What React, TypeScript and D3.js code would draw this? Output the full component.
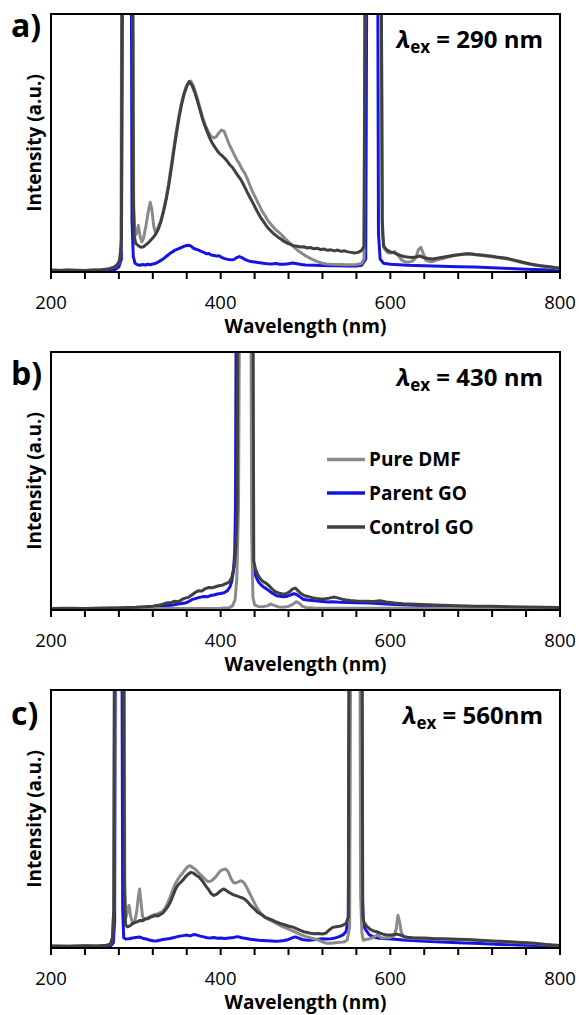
import React from "react";
import * as d3 from "d3";

type Pt = [number, number];

// ---------- Panel a: λex = 290 nm ----------
const dmf290: Pt[] = [[200,0.7],[220,0.7],[240,0.6],[260,0.9],[270,1.4],[276,2.2],[280,3.5],[282.5,8],[283.5,140],[296.5,140],[297.5,25],[299,14],[301,15],[303,18],[305,14],[307,11.6],[309,13],[312,18],[315,24],[317,27],[319,24],[321,18],[323,15.4],[326,17],[329,19.5],[332,23],[335,27.5],[338,33],[341,39.5],[344,46.5],[347,53],[350,59],[353,64.5],[356,68.5],[359,71.5],[362,73.5],[365,74],[368,72],[371,69],[374,65.5],[377,62],[380,58.5],[383,56],[386,54],[389,52.5],[392,52],[395,52.5],[398,54],[401,55],[404,54.6],[407,52],[410,49.5],[413,47.5],[416,45.5],[419,43.5],[422,42],[425,40],[428,38.5],[431,36.5],[434,34],[437,31.5],[440,29.5],[443,27.5],[446,25.5],[449,23.5],[452,22],[455,20.3],[458,19],[461,17.8],[464,16.6],[467,15.8],[470,15],[473,14],[476,13],[479,12],[482,11],[485,10],[488,9.2],[491,8.3],[494,7.6],[497,7],[500,6.3],[504,5.6],[508,4.9],[512,4.3],[516,3.8],[520,3.4],[525,3.1],[530,3],[540,2.9],[550,2.8],[560,2.9],[566,3.3],[569,5],[570.5,140],[589,140],[590.5,15],[593,9],[597,7.5],[601,7.4],[605,7.9],[609,6.5],[613,4.8],[617,4],[621,3.8],[626,4.2],[630,5.5],[633,8.5],[636,9.6],[639,7],[642,4.5],[647,4],[652,4.3],[657,4.8],[662,5.2],[667,5.7],[672,6.1],[678,6.5],[684,6.8],[690,7],[696,7],[702,6.6],[710,6.3],[720,5.9],[730,5.4],[740,4.9],[750,4.1],[760,3.3],[770,2.7],[780,2.2],[790,1.8],[800,1.4]];

const parent290: Pt[] = [[200,0.3],[220,0.3],[240,0.3],[260,0.4],[270,0.6],[276,1],[280,2],[283,5],[284.5,140],[294.5,140],[295.5,20],[297,6],[299,3.4],[302,2.8],[305,2.6],[308,2.9],[311,2.7],[314,3],[317,2.8],[320,3.1],[323,3.3],[326,3.8],[329,4.4],[332,5],[335,5.8],[338,6.6],[341,7.4],[344,8],[347,8.6],[350,9],[353,9.4],[356,9.8],[359,10.2],[362,10.4],[365,10],[368,9.2],[371,8.8],[374,8.5],[377,8],[380,7.6],[383,7.1],[386,7.2],[389,6.6],[392,6.4],[395,6.2],[398,6.3],[401,5.7],[404,5.3],[407,5],[410,4.8],[413,4.7],[416,4.9],[419,5.6],[422,6],[425,5.6],[428,5],[431,4.5],[434,4.2],[438,4],[442,3.8],[446,3.6],[450,3.4],[455,3.2],[460,3.1],[465,3.3],[470,3],[475,3],[480,3.2],[485,3.5],[490,3.2],[495,2.9],[500,2.7],[510,2.6],[520,2.5],[530,2.4],[540,2.4],[550,2.3],[560,2.3],[566,2.6],[571,5],[572.5,140],[585,140],[586,15],[588,5],[592,3.4],[600,3],[610,2.8],[620,2.6],[640,2.4],[660,2.2],[680,2],[700,1.9],[720,1.6],[740,1.4],[760,1.1],[780,0.9],[800,0.7]];

const control290: Pt[] = [[200,0.8],[210,0.6],[220,0.8],[230,0.7],[240,0.6],[250,0.8],[260,0.9],[268,1.2],[274,1.8],[278,2.8],[281,4.5],[283,12],[284,140],[296,140],[297,30],[298,14],[300,11],[303,10.2],[306,9.6],[309,9.8],[312,10.6],[315,11.4],[318,12.5],[321,13.6],[324,15],[327,17],[330,20],[333,24],[336,28.5],[339,34],[342,40.5],[345,47.5],[348,54],[351,60],[354,65],[357,69],[360,72],[363,73.8],[366,72.5],[369,70],[372,67],[375,63.5],[378,60],[381,57],[384,54.5],[387,52],[390,50],[393,48.5],[396,47],[399,45.8],[402,45],[405,44],[408,42.8],[411,41.5],[414,40.5],[417,39],[420,37.5],[423,36.2],[426,34.5],[429,32.5],[432,30.5],[435,28.6],[438,26.8],[441,24.8],[444,23],[447,21.2],[450,19.8],[453,18.3],[456,17],[459,16],[462,15],[465,14.2],[468,13.4],[471,12.8],[474,12],[477,11.5],[480,11],[483,10.6],[486,10.2],[490,10],[494,9.7],[498,9.8],[502,9.3],[506,9.5],[510,9],[514,9.2],[518,8.7],[522,8.9],[526,8.4],[530,8.6],[534,8.2],[538,8.5],[542,8],[546,8.2],[550,7.8],[554,7.6],[558,7.4],[562,7.6],[566,8.3],[569,10],[570.5,140],[589,140],[590.5,20],[592,10],[596,8.5],[600,7.8],[604,7.5],[608,6.9],[612,6.4],[616,6],[620,5.8],[625,5.6],[630,5.8],[635,6.2],[640,5.5],[645,5.2],[650,5],[655,5.3],[660,5.6],[665,5.9],[670,6.2],[675,6.5],[680,6.7],[685,6.9],[690,7.1],[695,7],[700,6.8],[705,6.7],[710,6.5],[715,6.3],[720,6.1],[725,5.8],[730,5.6],[735,5.4],[740,5.1],[745,4.7],[750,4.3],[755,3.9],[760,3.5],[765,3.1],[770,2.8],[775,2.5],[780,2.3],[785,2.1],[790,1.9],[795,1.7],[800,1.5]];

// ---------- Panel b: λex = 430 nm ----------
const dmf430: Pt[] = [[200,0.6],[250,0.6],[300,0.6],[350,0.6],[400,0.7],[410,0.9],[414,1.6],[417,4],[419,12],[421,40],[422.5,140],[435.5,140],[436.5,30],[438,5],[440,2],[444,1.4],[450,1.3],[455,1.6],[459,2.3],[463,1.8],[468,1.2],[474,1.1],[480,1.4],[485,2.2],[489,3.2],[492,2.8],[496,1.5],[500,1],[510,0.8],[530,0.7],[560,0.7],[600,0.7],[650,0.7],[700,0.7],[750,0.7],[800,0.7]];

const parent430: Pt[] = [[200,0.5],[220,0.5],[240,0.4],[260,0.5],[280,0.5],[300,0.6],[320,0.8],[330,1.2],[336,1.7],[342,1.8],[348,2.2],[354,2.5],[358,2.7],[362,3.2],[366,4],[370,4.4],[375,4.9],[380,5.2],[384,5.1],[388,5.6],[392,5.8],[396,6.2],[400,6.4],[404,6.7],[408,7.5],[411,9],[413,11],[415,15],[416.5,22],[417.5,40],[418.5,140],[436.5,140],[437.5,25],[439,15.8],[442,12.6],[445,10.7],[448,9.6],[451,8.8],[454,8.2],[458,7.2],[462,6.3],[466,5.5],[470,5.3],[474,5.1],[478,5.3],[482,5.8],[486,6.3],[489,6.1],[493,5.2],[497,4.2],[502,3.9],[508,3.7],[514,3.5],[520,3.3],[527,3.1],[532,3.2],[540,3],[550,2.9],[560,2.8],[575,2.7],[590,2.4],[605,2.1],[620,1.9],[640,1.6],[660,1.4],[680,1.2],[700,1.1],[720,0.9],[740,0.8],[760,0.7],[780,0.6],[800,0.6]];

const control430: Pt[] = [[200,0.6],[220,0.7],[240,0.6],[260,0.8],[280,0.9],[300,1.1],[310,1.3],[320,1.5],[330,2],[336,2.7],[342,2.9],[346,3.4],[350,3.2],[354,4],[358,4.6],[362,4.9],[366,5.8],[370,6.8],[374,7.5],[378,7.4],[382,8.3],[386,8.7],[390,8.6],[394,9],[398,9.4],[402,9.6],[406,10.2],[410,10.8],[413,12.5],[416,17],[418,25],[419.5,40],[420.5,140],[438,140],[439,19],[441,16],[444,13.5],[447,12],[450,11],[453,10.5],[457,9.4],[461,8],[465,7],[469,6.5],[473,6.2],[477,6.3],[481,7],[485,8.2],[488,8.5],[491,7.5],[495,6.3],[499,5.5],[503,5.2],[508,4.8],[513,4.5],[518,4.3],[523,4.4],[528,4.6],[533,5],[538,4.7],[543,4.2],[548,3.9],[553,3.7],[560,3.5],[570,3.4],[580,3.3],[588,3.6],[595,3.1],[605,2.7],[615,2.4],[630,2.2],[645,2],[660,1.8],[680,1.6],[700,1.5],[720,1.5],[740,1.3],[760,1.2],[780,1.1],[800,1]];

// ---------- Panel c: λex = 560 nm ----------
const dmf560: Pt[] = [[200,0.8],[220,0.7],[240,0.9],[255,0.8],[265,1.1],[270,1.4],[272.5,4],[274,15],[275,140],[286,140],[287,25],[288.5,12],[290,14],[292,16.5],[294,12],[296,10],[299,10.8],[301,14],[303,20],[304.5,22.9],[306,18],[308,12],[310,11.3],[313,11.6],[316,12.1],[319,12.6],[322,12.9],[325,13.2],[328,13.6],[331,14],[334,15.2],[337,17],[340,19.3],[343,22],[346,24.5],[349,26.3],[352,27.8],[355,29],[358,30.3],[361,31.5],[364,31.9],[367,31.2],[370,30.5],[373,29.5],[376,28.5],[379,27.6],[382,26.5],[385,25.8],[388,25.9],[391,26.5],[394,27.5],[397,28.8],[400,30],[403,30.4],[406,30.6],[409,29.5],[412,27],[415,25.4],[418,25.2],[421,25.6],[424,26.1],[427,25.5],[430,24],[433,22],[436,20],[439,18],[442,16],[445,14.5],[448,13.2],[451,12.2],[455,11.3],[460,10.5],[465,9.6],[470,8.7],[475,8],[480,7.3],[485,6.6],[490,5.9],[495,5.1],[500,4.5],[505,4],[510,3.6],[515,3.1],[520,2.4],[525,1.8],[530,1.8],[535,2],[540,2.2],[545,2.3],[549,3],[552,8],[553.5,140],[564,140],[565,20],[566.5,6],[568,3],[572,3.4],[576,3.6],[580,4.1],[583,4.8],[585,5.3],[587,4.5],[590,3.9],[595,4],[600,4.1],[604,4.6],[607,7.5],[609,12.6],[611,10],[613,6],[616,4.2],[620,3.9],[630,3.8],[640,3.6],[650,3.5],[670,3.4],[690,3.2],[710,2.8],[730,2.5],[750,2.1],[770,1.7],[790,1.2],[800,1]];

const parent560: Pt[] = [[200,0.4],[220,0.4],[240,0.4],[260,0.5],[270,0.7],[273.5,2],[275,10],[276,140],[283.5,140],[284.5,15],[285.7,4],[288,3.5],[292,3.6],[296,3.9],[300,4.1],[304,4.3],[308,3.8],[312,3.5],[316,3.1],[320,2.8],[324,2.7],[328,3],[332,3.3],[336,3.5],[340,3.7],[344,4],[348,4.3],[352,4.6],[356,4.8],[360,5],[364,4.7],[368,5.2],[372,5],[376,4.6],[380,4.3],[384,4],[388,3.9],[392,4.1],[396,3.8],[400,3.9],[405,3.7],[410,3.9],[415,4.1],[420,4.4],[425,4],[430,3.7],[435,3.4],[440,3.2],[445,3],[450,2.9],[455,2.8],[460,2.7],[465,2.6],[470,2.7],[475,2.9],[480,3.3],[485,4],[488,4.3],[492,3.8],[496,3.3],[500,3.1],[505,3],[510,3.2],[515,3.4],[520,3.6],[525,3.5],[530,3.6],[535,3.9],[540,4.4],[545,5.3],[548,6.5],[550.5,12],[552,140],[566,140],[567,20],[568.5,8.7],[571,7],[575,5.2],[580,4.3],[585,3.9],[590,3.7],[597,3.6],[605,3.4],[615,3.1],[625,2.9],[641,2.6],[660,2.3],[680,2],[706,1.7],[730,1.4],[750,1.2],[771,1],[790,0.6],[800,0.4]];

const control560: Pt[] = [[200,0.8],[220,0.7],[240,0.9],[255,0.8],[265,1.1],[270,1.4],[272.5,4],[274,15],[275,140],[285.5,140],[286.5,20],[288,9],[290,8.2],[293,8.6],[296,9.4],[299,9.8],[302,10.2],[305,10.7],[308,10.6],[311,11.2],[314,11.3],[317,11.9],[320,12.3],[323,12.6],[326,12.4],[329,13],[332,13.6],[335,14.8],[338,16.2],[341,18],[344,20.5],[347,23],[350,24.5],[353,25.5],[356,26.5],[359,27.8],[362,28.7],[365,29.3],[368,29],[371,28.2],[374,27.6],[377,26.6],[380,25.2],[383,23.8],[386,22.5],[389,21],[392,20.4],[395,20.8],[398,21.6],[401,22.4],[404,22.9],[407,22.2],[410,21.5],[413,21],[416,20.5],[419,20.2],[422,19.8],[425,19.5],[428,19],[431,18.2],[434,17],[437,16],[440,15],[443,14],[446,13.4],[449,12.8],[452,12],[455,11.6],[458,11.2],[461,10.8],[464,10.3],[467,9.9],[470,9.5],[474,9.1],[478,8.7],[482,8.3],[486,8],[490,7.4],[494,6.8],[498,6.3],[502,6],[506,5.7],[510,5.5],[515,5.6],[520,5.4],[524,5.8],[528,7],[532,8],[536,8.2],[540,8.4],[544,8.8],[548,9.6],[550.5,12],[551.5,140],[566.5,140],[567.5,12],[569,10],[572,8.5],[576,7.3],[580,6.6],[584,6.3],[588,5.8],[592,5.3],[596,5],[600,5],[604,5.1],[608,5.4],[612,5],[616,4.5],[620,4.2],[626,4],[632,3.9],[640,3.9],[650,3.7],[660,3.6],[670,3.5],[680,3.4],[690,3.3],[700,3.1],[710,2.9],[720,2.7],[730,2.6],[740,2.4],[750,2.2],[760,2],[770,1.8],[780,1.5],[790,1.2],[800,1]];

const seriesNames = ["Pure DMF", "Parent GO", "Control GO"];
const seriesColors = ["#8a8a8a", "#1414e6", "#404040"];
const panelLetters = ["a)", "b)", "c)"];
const excitation = ["290 nm", "430 nm", "560nm"];
const xTickLabels = [200, 400, 600, 800];
const xMinorTicks = d3.range(200, 801, 40);

const FONT = "'Open Sans', 'DejaVu Sans', sans-serif";
const W = 579, H = 1015;
const left = 51, right = 560, plotH = 258;
const tops = [14, 352, 690];
const letterBaselines = [37, 385, 725];

export default function App() {
  const panels = [
    [dmf290, parent290, control290],
    [dmf430, parent430, control430],
    [dmf560, parent560, control560],
  ];
  const x = d3.scaleLinear().domain([200, 800]).range([left, right]);
  // draw order: blue, gray, dark
  const order = [1, 0, 2];

  return (
    <svg width={W} height={H} style={{ position: "absolute", left: 0, top: 0, background: "#fff" }} fontFamily={FONT}>
      <rect x={0} y={0} width={W} height={H} fill="#fff" />
      {panels.map((series, pi) => {
        const top = tops[pi];
        const bottom = top + plotH;
        const y = d3.scaleLinear().domain([0, 100]).range([bottom, top]);
        const line = d3.line<Pt>().x((d) => x(d[0])).y((d) => y(d[1]));
        const clipId = `clip${pi}`;
        return (
          <g key={pi}>
            <defs>
              <clipPath id={clipId}>
                <rect x={left} y={top} width={right - left} height={plotH} />
              </clipPath>
            </defs>
            <g clipPath={`url(#${clipId})`}>
              {order.map((si) => (
                <path key={si} d={line(series[si]) || ""} fill="none" stroke={seriesColors[si]} strokeWidth={3} strokeLinejoin="round" />
              ))}
            </g>
            <rect x={left} y={top} width={right - left} height={plotH} fill="none" stroke="#000" strokeWidth={2} />
            {xMinorTicks.map((t) => (
              <line key={t} x1={x(t)} x2={x(t)} y1={bottom} y2={bottom + 7} stroke="#000" strokeWidth={2} />
            ))}
            {xTickLabels.map((t) => (
              <text key={t} x={x(t)} y={bottom + 37} textAnchor="middle" fontSize={18.5} fill="#000">{t}</text>
            ))}
            <text x={(left + right) / 2} y={bottom + 61} textAnchor="middle" fontSize={19} fontWeight="bold" fill="#000">Wavelength (nm)</text>
            <text transform={`translate(41, ${(top + bottom) / 2}) rotate(-90)`} textAnchor="middle" fontSize={19} fontWeight="bold" fill="#000">Intensity (a.u.)</text>
            <text x={11} y={letterBaselines[pi]} fontSize={32} fontWeight="bold" fill="#000">{panelLetters[pi]}</text>
            <text x={543} y={top + 34} textAnchor="end" fontSize={24} fontWeight="bold" fill="#000">
              <tspan fontStyle="italic">λ</tspan>
              <tspan fontSize={17} dy={5}>ex</tspan>
              <tspan dy={-5}>{` = ${excitation[pi]}`}</tspan>
            </text>
          </g>
        );
      })}
      {seriesNames.map((name, i) => {
        const ly = [459.5, 493, 527][i];
        return (
          <g key={name}>
            <line x1={327} x2={365} y1={ly} y2={ly} stroke={seriesColors[i]} strokeWidth={3.5} />
            <text x={369} y={ly + 6.8} fontSize={19} fontWeight="bold" fill="#000">{name}</text>
          </g>
        );
      })}
    </svg>
  );
}
